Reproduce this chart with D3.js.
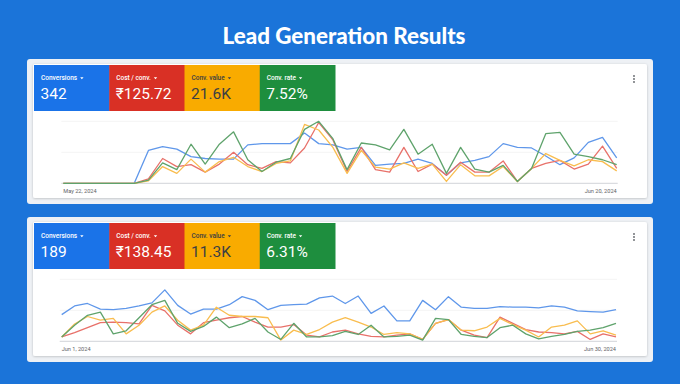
<!DOCTYPE html>
<html>
<head>
<meta charset="utf-8">
<script src="https://cdn.jsdelivr.net/npm/d3@7"></script>
<style>
  html, body { margin: 0; padding: 0; background: #1b74d9; }
  svg { display: block; }
</style>
</head>
<body>
<div id="chart"></div>
<script>
// Lead generation results - two Google Ads style overview panels

// ---------- Data ----------
const metricNames = ['Conversions', 'Cost / conv.', 'Conv. value', 'Conv. rate'];
const topTotals = ['342', '₹125.72', '21.6K', '7.52%'];
const bottomTotals = ['189', '₹138.45', '11.3K', '6.31%'];
const topDates = ['May 22, 2024', 'Jun 20, 2024'];
const bottomDates = ['Jun 1, 2024', 'Jun 30, 2024'];
const gridValues = [0, 50, 100];

// each series is normalised to its own axis (0 = baseline, 100 = top gridline)
const topConversions = [0, 0, 0, 0, 0, 0, 53, 59, 55, 43, 40, 39, 39, 62, 64, 64, 64, 81, 64, 62,
  55, 58, 29, 31, 32, 39, 32, 13, 33, 37, 43, 64, 58, 57, 44, 30, 41, 66, 74, 41];
const topCostPerConv = [0, 0, 0, 0, 0, 0, 7, 40, 27, 30, 18, 31, 50, 30, 24, 35, 33, 57, 98, 70,
  19, 58, 22, 18, 58, 19, 31, 13, 34, 18, 18, 36, 3, 24, 32, 37, 23, 31, 60, 24];
const topConvValue = [0, 0, 0, 0, 0, 0, 4, 27, 16, 39, 18, 35, 42, 27, 19, 32, 36, 95, 86, 58,
  16, 53, 26, 23, 33, 24, 31, 3, 30, 12, 12, 27, 3, 24, 48, 37, 28, 38, 35, 20];
const topConvRate = [0, 0, 0, 0, 0, 0, 5, 33, 22, 63, 31, 63, 83, 38, 19, 34, 40, 87, 100, 72,
  22, 65, 62, 54, 87, 47, 63, 16, 58, 23, 18, 29, 3, 24, 80, 82, 47, 43, 38, 30];

const bottomConversions = [43, 57, 61, 52, 51, 53, 57, 62, 83, 58, 44, 52, 52, 59, 72, 66, 51, 58, 59, 60,
  70, 73, 61, 73, 45, 57, 33, 33, 66, 51, 72, 55, 53, 53, 56, 55, 55, 54, 57, 55, 49, 48, 47, 51];
const bottomCostPerConv = [7, 14, 22, 30, 31, 30, 28, 58, 49, 26, 12, 30, 34, 38, 40, 31, 23, 23, 27, 10,
  7, 15, 18, 12, 8, 7, 10, 12, 3, 29, 35, 18, 10, 6, 39, 29, 19, 15, 14, 12, 16, 3, 12, 7];
const bottomConvValue = [7, 28, 40, 34, 37, 12, 26, 47, 57, 34, 18, 26, 55, 42, 40, 40, 38, 2, 18, 11,
  19, 31, 38, 31, 23, 11, 14, 12, 3, 29, 35, 18, 17, 23, 37, 27, 18, 7, 23, 26, 33, 12, 17, 10];
const bottomConvRate = [7, 26, 42, 47, 12, 17, 38, 59, 66, 29, 16, 24, 39, 22, 28, 37, 15, 3, 29, 7,
  7, 9, 16, 11, 26, 7, 8, 10, 2, 37, 35, 11, 8, 6, 22, 26, 12, 4, 8, 11, 16, 18, 22, 29];

// ---------- Styles ----------
const cardFill = ['#1a73e8', '#d93025', '#f9ab00', '#1e8e3e'];
const cardText = ['#ffffff', '#ffffff', '#3c4043', '#ffffff'];
const lineColor = ['#5f97ea', '#e8716a', '#f9bd4f', '#5fa36c'];

const W = 680, H = 384;

const svg = d3.select('#chart').append('svg')
  .attr('width', W)
  .attr('height', H);

const defs = svg.append('defs');
defs.append('filter').attr('id', 'shadow')
  .attr('x', '-5%').attr('y', '-5%').attr('width', '110%').attr('height', '115%')
  .append('feDropShadow')
  .attr('dx', 0).attr('dy', 0.6).attr('stdDeviation', 0.8)
  .attr('flood-color', '#000').attr('flood-opacity', 0.22);

svg.append('rect')
  .attr('width', W)
  .attr('height', H)
  .attr('fill', '#1b74d9');

svg.append('text')
  .attr('x', 344)
  .attr('y', 43.5)
  .attr('text-anchor', 'middle')
  .attr('font-family', 'Lato, sans-serif')
  .attr('font-weight', 900)
  .attr('font-size', 23)
  .attr('fill', '#ffffff')
  .attr('textLength', 243)
  .attr('lengthAdjust', 'spacingAndGlyphs')
  .text('Lead Generation Results');

// Draw one panel: metric cards on top, four normalised lines below
function drawPanel(top, totals, series, dates, xRange) {
  const g = svg.append('g').attr('transform', `translate(0,${top})`);

  // frame + white card
  g.append('rect')
    .attr('x', 27).attr('y', 0)
    .attr('width', 626).attr('height', 145)
    .attr('rx', 3)
    .attr('fill', '#eef1f5');
  g.append('rect')
    .attr('x', 33).attr('y', 5)
    .attr('width', 614).attr('height', 134)
    .attr('rx', 2)
    .attr('fill', '#ffffff')
    .attr('filter', 'url(#shadow)');

  // metric cards
  const cardX = d3.scaleBand().domain(metricNames).range([34, 335]);
  const cards = g.selectAll('g.card')
    .data(metricNames)
    .enter().append('g')
    .attr('class', 'card')
    .attr('transform', d => `translate(${cardX(d)},6)`);

  cards.append('rect')
    .attr('width', cardX.bandwidth() + 0.5)
    .attr('height', 46)
    .attr('fill', (d, i) => cardFill[i]);

  cards.append('text')
    .attr('x', 7)
    .attr('y', 15)
    .attr('font-family', 'Roboto, sans-serif')
    .attr('font-weight', 500)
    .attr('font-size', 6.5)
    .attr('fill', (d, i) => cardText[i])
    .text(d => d)
    .each(function (d, i) {
      const w = this.getComputedTextLength();
      d3.select(this.parentNode).append('path')
        .attr('d', `M${7 + w + 3},12.2 l3.4,0 l-1.7,2 z`)
        .attr('fill', cardText[i]);
    });

  cards.append('text')
    .attr('x', 6.5)
    .attr('y', 34)
    .attr('font-family', 'Roboto, sans-serif')
    .attr('font-size', 15.5)
    .attr('fill', (d, i) => cardText[i])
    .text((d, i) => totals[i]);

  // kebab menu
  g.selectAll('circle.dot')
    .data([17, 20, 23])
    .enter().append('circle')
    .attr('cx', 634)
    .attr('cy', d => d)
    .attr('r', 0.9)
    .attr('fill', '#5f6368');

  // scales
  const x = d3.scaleLinear().domain([0, series[0].length - 1]).range(xRange);
  const y = d3.scaleLinear().domain([0, 100]).range([124.3, 62.3]);

  g.selectAll('line.grid')
    .data(gridValues)
    .enter().append('line')
    .attr('x1', xRange[0] - 2)
    .attr('x2', xRange[1] + 1)
    .attr('y1', d => y(d))
    .attr('y2', d => y(d))
    .attr('stroke', d => d === 0 ? '#dadce0' : '#f1f1f1')
    .attr('stroke-width', d => d === 0 ? 1.2 : 0.8);

  const line = d3.line()
    .x((d, i) => x(i))
    .y(d => y(d));

  g.selectAll('path.series')
    .data(series)
    .enter().append('path')
    .attr('class', 'series')
    .attr('d', line)
    .attr('fill', 'none')
    .attr('stroke', (d, i) => lineColor[i])
    .attr('stroke-width', 1.3)
    .attr('stroke-linejoin', 'round');

  // first / last date labels
  g.selectAll('text.date')
    .data(dates)
    .enter().append('text')
    .attr('x', (d, i) => i === 0 ? xRange[0] : xRange[1])
    .attr('y', 133.5)
    .attr('text-anchor', (d, i) => i === 0 ? 'start' : 'end')
    .attr('font-family', 'Roboto, sans-serif')
    .attr('font-size', 5.6)
    .attr('fill', '#5f6368')
    .text(d => d);
}

drawPanel(59, topTotals,
  [topConversions, topCostPerConv, topConvValue, topConvRate],
  topDates, [63.3, 616.7]);

drawPanel(217, bottomTotals,
  [bottomConversions, bottomCostPerConv, bottomConvValue, bottomConvRate],
  bottomDates, [61.7, 616]);
</script>
</body>
</html>
